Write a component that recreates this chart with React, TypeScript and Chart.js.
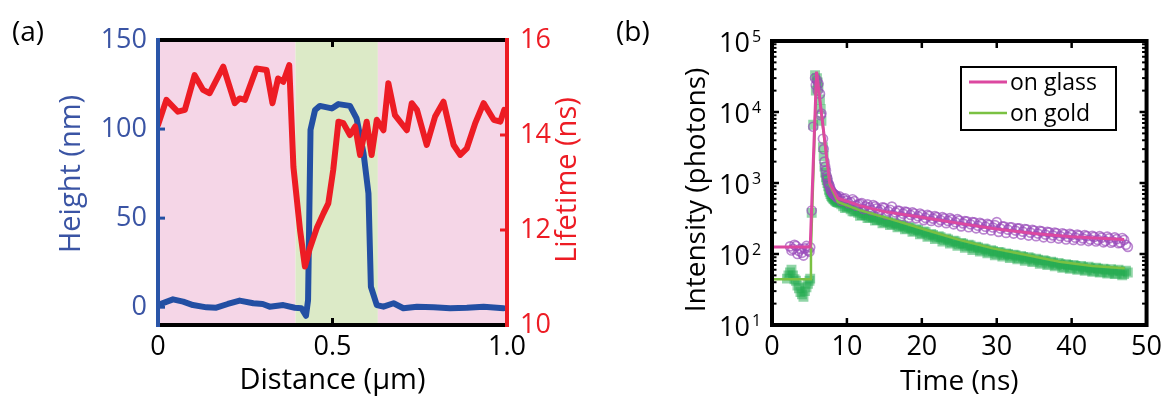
import React, { useEffect, useRef } from "react";
import { Chart, registerables } from "chart.js";
Chart.register(...registerables);

const FONT = "'Open Sans', 'DejaVu Sans', sans-serif";

// ---------- Panel (a) data ----------
const heightX = [0.0, 0.043, 0.072, 0.10, 0.139, 0.167, 0.20, 0.234, 0.273, 0.30, 0.32, 0.359, 0.392, 0.411, 0.424, 0.43, 0.437, 0.45, 0.464, 0.498, 0.517, 0.55, 0.569, 0.589, 0.603, 0.61, 0.627, 0.646, 0.675, 0.703, 0.742, 0.79, 0.837, 0.885, 0.933, 0.99];
const heightNm = [1.2, 4.4, 3.1, 1.2, -0.1, -0.3, 1.8, 3.7, 2.2, 1.8, 0.3, 1.2, -0.3, -0.6, -4.8, 4, 99.5, 110.7, 113, 111.6, 114, 113, 106, 86.4, 63.9, 11.5, 1.2, 0.3, 2.2, -0.6, 0.3, -0.1, -0.6, -0.3, 0.3, -0.6];
const lifetimeX = [0.0, 0.024, 0.057, 0.077, 0.105, 0.129, 0.148, 0.187, 0.22, 0.234, 0.249, 0.282, 0.311, 0.328, 0.344, 0.359, 0.376, 0.388, 0.407, 0.421, 0.435, 0.455, 0.474, 0.488, 0.502, 0.517, 0.531, 0.55, 0.565, 0.579, 0.598, 0.612, 0.627, 0.646, 0.66, 0.679, 0.713, 0.727, 0.742, 0.77, 0.794, 0.818, 0.847, 0.866, 0.885, 0.909, 0.933, 0.962, 0.981, 0.992];
const lifetimeNs = [14.21, 14.74, 14.49, 14.53, 15.26, 14.95, 14.88, 15.44, 14.67, 14.77, 14.74, 15.40, 15.37, 14.67, 15.19, 15.12, 15.47, 13.33, 12.0, 11.23, 11.61, 12.04, 12.35, 12.56, 13.26, 14.28, 14.25, 14.0, 14.18, 13.58, 14.28, 13.58, 14.32, 14.1, 15.09, 14.42, 14.1, 14.67, 14.53, 13.79, 14.39, 14.7, 13.79, 13.58, 13.72, 14.25, 14.67, 14.32, 14.28, 14.53];
const bandEdges = [0, 0.394, 0.63, 1.0];
const bandColors = ["#f5d6e7", "#dceac7", "#f5d6e7"];
const distanceTicks = [0, 0.5, 1.0];
const heightTicks = [0, 50, 100, 150];
const lifetimeTicks = [10, 12, 14, 16];

// ---------- Panel (b) data ----------
const glassT = [2.4, 2.8, 3.2, 3.6, 4.0, 4.4, 4.8, 5.1, 5.3, 5.5, 5.75, 6.0, 6.2, 6.4, 6.6, 6.8, 7.0, 7.2, 7.4, 7.6, 7.8, 8.0, 8.2, 8.4, 8.6, 8.8,
  9.0, 9.5, 10.0, 10.5, 11.0, 11.5, 12.0, 12.5, 13.0, 13.5, 14.0, 14.5, 15.0, 15.5, 16.0, 16.5, 17.0, 17.5, 18.0, 18.5, 19.0, 19.5, 20.0, 20.5,
  21.0, 21.5, 22.0, 22.5, 23.0, 23.5, 24.0, 24.5, 25.0, 25.5, 26.0, 26.5, 27.0, 27.5, 28.0, 28.5, 29.0, 29.5, 30.0, 30.5, 31.0, 31.5, 32.0, 32.5,
  33.0, 33.5, 34.0, 34.5, 35.0, 35.5, 36.0, 36.5, 37.0, 37.5, 38.0, 38.5, 39.0, 39.5, 40.0, 40.5, 41.0, 41.5, 42.0, 42.5, 43.0, 43.5, 44.0, 44.5,
  45.0, 45.5, 46.0, 46.5, 47.0, 47.5];
const glassI = [128, 118, 130, 110, 104, 120, 112, 124, 410, 6200, 30000, 28000, 25000, 18000, 9500, 4200, 2000, 1500, 1150, 950, 820, 740, 700, 680, 650, 630,
  650, 600, 565, 540, 555, 500, 520, 470, 455, 490, 440, 420, 445, 400, 465, 385, 405, 370, 390, 355, 372, 340, 355, 322,
  345, 315, 330, 300, 318, 292, 305, 280, 296, 270, 288, 262, 278, 250, 265, 242, 258, 236, 282, 228, 244, 220, 238, 214,
  230, 206, 222, 200, 214, 194, 208, 188, 202, 183, 196, 178, 190, 174, 186, 170, 182, 166, 178, 160, 174, 158, 170, 152,
  166, 150, 162, 145, 158, 126];
const glassT2 = [2.6, 3.0, 3.4, 3.8, 4.2, 4.6, 5.0, 5.85, 6.1, 6.5, 6.9, 7.1, 7.3, 7.5, 7.7, 7.9, 8.1, 8.3, 8.5, 8.7,
  9.25, 9.75, 10.25, 10.75, 11.25, 11.75, 12.25, 12.75, 13.25, 13.75, 14.25, 14.75, 15.25, 15.75, 16.25, 16.75, 17.25, 17.75, 18.25, 18.75,
  19.25, 19.75, 20.25, 20.75, 21.25, 21.75, 22.25, 22.75, 23.25, 23.75, 24.25, 24.75, 25.25, 25.75, 26.25, 26.75, 27.25, 27.75, 28.25, 28.75,
  29.25, 29.75, 30.25, 30.75, 31.25, 31.75, 32.25, 32.75, 33.25, 33.75, 34.25, 34.75, 35.25, 35.75, 36.25, 36.75, 37.25, 37.75, 38.25, 38.75,
  39.25, 39.75, 40.25, 40.75, 41.25, 41.75, 42.25, 42.75, 43.25, 43.75, 44.25, 44.75, 45.25, 45.75, 46.25, 46.75, 47.25];
const glassI2 = [112, 135, 100, 118, 95, 130, 108, 24000, 20000, 9000, 3000, 1700, 1250, 1000, 900, 780, 720, 690, 660, 620,
  560, 610, 520, 590, 480, 510, 430, 500, 415, 470, 395, 455, 360, 420, 350, 410, 340, 395, 325, 385,
  318, 372, 300, 355, 292, 342, 282, 330, 272, 320, 262, 310, 245, 290, 238, 282, 230, 275, 222, 265,
  215, 255, 205, 245, 198, 238, 194, 230, 188, 225, 182, 218, 178, 212, 172, 205, 168, 200, 165, 196,
  160, 192, 158, 188, 155, 185, 152, 180, 150, 178, 146, 176, 144, 172, 142, 168, 135];
const goldT = [2.0, 2.4, 2.8, 3.2, 3.6, 4.0, 4.4, 4.8, 5.1, 5.3, 5.5, 5.75, 6.0, 6.2, 6.4, 6.6, 6.8, 7.0, 7.2, 7.4, 7.6, 7.8, 8.0, 8.2, 8.4, 8.6, 8.8,
  9.0, 9.5, 10.0, 10.5, 11.0, 11.5, 12.0, 12.5, 13.0, 13.5, 14.0, 14.5, 15.0, 15.5, 16.0, 16.5, 17.0, 17.5, 18.0, 18.5, 19.0, 19.5, 20.0, 20.5,
  21.0, 21.5, 22.0, 22.5, 23.0, 23.5, 24.0, 24.5, 25.0, 25.5, 26.0, 26.5, 27.0, 27.5, 28.0, 28.5, 29.0, 29.5, 30.0, 30.5, 31.0, 31.5, 32.0, 32.5,
  33.0, 33.5, 34.0, 34.5, 35.0, 35.5, 36.0, 36.5, 37.0, 37.5, 38.0, 38.5, 39.0, 39.5, 40.0, 40.5, 41.0, 41.5, 42.0, 42.5, 43.0, 43.5, 44.0, 44.5,
  45.0, 45.5, 46.0, 46.5, 47.0, 47.5];
const goldI = [45, 55, 50, 42, 33, 27, 30, 38, 45, 380, 6600, 33000, 30000, 22000, 15000, 7500, 3200, 1700, 1200, 1000, 800, 700, 640, 600, 570, 550, 535,
  520, 470, 455, 425, 395, 380, 355, 350, 325, 330, 300, 305, 280, 285, 262, 268, 245, 250, 228, 232, 212, 218, 196, 202,
  182, 186, 170, 172, 158, 160, 146, 150, 137, 140, 128, 132, 120, 124, 113, 117, 107, 110, 101, 105, 97, 100, 92, 96,
  88, 91, 84, 87, 80, 83, 76, 80, 73, 76, 70, 72, 66, 70, 64, 68, 62, 65, 60, 63, 58, 62, 56, 60,
  55, 58, 53, 57, 52, 55];
const goldT2 = [2.2, 2.6, 3.0, 3.4, 3.8, 4.2, 4.6, 5.0, 5.85, 6.1, 6.5, 6.9, 7.1, 7.3, 7.5, 7.7, 7.9, 8.1, 8.3, 8.5, 8.7,
  9.25, 9.75, 10.25, 10.75, 11.25, 11.75, 12.25, 12.75, 13.25, 13.75, 14.25, 14.75, 15.25, 15.75, 16.25, 16.75, 17.25, 17.75, 18.25, 18.75,
  19.25, 19.75, 20.25, 20.75, 21.25, 21.75, 22.25, 22.75, 23.25, 23.75, 24.25, 24.75, 25.25, 25.75, 26.25, 26.75, 27.25, 27.75, 28.25, 28.75,
  29.25, 29.75, 30.25, 30.75, 31.25, 31.75, 32.25, 32.75, 33.25, 33.75, 34.25, 34.75, 35.25, 35.75, 36.25, 36.75, 37.25, 37.75, 38.25, 38.75,
  39.25, 39.75, 40.25, 40.75, 41.25, 41.75, 42.25, 42.75, 43.25, 43.75, 44.25, 44.75, 45.25, 45.75, 46.25, 46.75, 47.25];
const goldI2 = [50, 60, 44, 36, 29, 25, 34, 42, 20000, 26000, 11000, 2400, 1400, 1100, 900, 750, 660, 620, 590, 560, 540,
  500, 445, 470, 400, 410, 345, 370, 320, 340, 295, 315, 270, 292, 255, 275, 238, 258, 222, 240, 205,
  224, 190, 208, 175, 192, 162, 178, 150, 166, 140, 154, 130, 143, 122, 135, 114, 127, 108, 120, 102,
  113, 96, 107, 92, 102, 88, 98, 84, 94, 80, 90, 77, 86, 73, 82, 70, 78, 67, 75, 64,
  72, 62, 70, 60, 68, 58, 66, 56, 64, 55, 62, 53, 61, 52, 60, 50, 58];
const glassFitT = [0, 5.1, 5.95, 7.7, 8.8, 11.7, 15, 20, 25, 30, 35, 40, 47];
const glassFitI = [125, 125, 37000, 1000, 610, 480, 395, 330, 270, 225, 195, 175, 160];
const goldFitT = [0, 5.15, 5.2, 5.95, 7.7, 8.8, 11.7, 16.2, 20.6, 25, 29.5, 34, 38.4, 42.8, 47.1];
const goldFitI = [44, 44, 115, 36000, 950, 540, 415, 302, 218, 158, 120, 97, 78, 68, 63];
const timeTicks = [0, 10, 20, 30, 40, 50];
const intensityDecades = [10, 100, 1000, 10000, 100000];
const legendLabels = ["on glass", "on gold"];

const BLUE_LINE = "#234fa3";
const BLUE_TEXT = "#3a54a4";
const RED = "#ed1c24";
const PINK = "#dc48a0";
const GREEN_LINE = "#7ac142";

const pts = (xs: number[], ys: number[]) => xs.map((x, i) => ({ x, y: ys[i] }));

function line(ctx: CanvasRenderingContext2D, x1: number, y1: number, x2: number, y2: number) {
  ctx.beginPath();
  ctx.moveTo(x1, y1);
  ctx.lineTo(x2, y2);
  ctx.stroke();
}

function rotatedText(ctx: CanvasRenderingContext2D, text: string, x: number, y: number, color: string, size: number) {
  ctx.save();
  ctx.translate(x, y);
  ctx.rotate(-Math.PI / 2);
  ctx.font = `${size}px ${FONT}`;
  ctx.fillStyle = color;
  ctx.textAlign = "center";
  ctx.textBaseline = "middle";
  ctx.fillText(text, 0, 0);
  ctx.restore();
}

const panelAPlugin = {
  id: "panelA",
  beforeDatasetsDraw(chart: any) {
    const { ctx, chartArea: ca, scales } = chart;
    const x = scales.x;
    ctx.save();
    for (let i = 0; i < bandColors.length; i++) {
      const x1 = x.getPixelForValue(bandEdges[i]);
      const x2 = x.getPixelForValue(bandEdges[i + 1]);
      ctx.fillStyle = bandColors[i];
      ctx.fillRect(x1, ca.top, x2 - x1, ca.bottom - ca.top);
    }
    ctx.restore();
  },
  afterDraw(chart: any) {
    const { ctx, chartArea: ca, scales } = chart;
    const { x, y, y1 } = scales;
    ctx.save();
    ctx.lineCap = "butt";
    ctx.lineWidth = 3;
    ctx.strokeStyle = "#000";
    for (const v of distanceTicks) {
      const px = x.getPixelForValue(v);
      line(ctx, px, ca.bottom, px, ca.bottom - 7);
      line(ctx, px, ca.top, px, ca.top + 7);
    }
    ctx.strokeStyle = BLUE_LINE;
    for (const v of heightTicks) {
      const py = y.getPixelForValue(v);
      line(ctx, ca.left, py, ca.left + 7, py);
    }
    ctx.strokeStyle = RED;
    for (const v of lifetimeTicks) {
      const py = y1.getPixelForValue(v);
      line(ctx, ca.right, py, ca.right - 7, py);
    }
    ctx.lineWidth = 4;
    ctx.strokeStyle = "#000";
    line(ctx, ca.left, ca.top, ca.right, ca.top);
    line(ctx, ca.left, ca.bottom, ca.right, ca.bottom);
    ctx.strokeStyle = "#2a55a8";
    line(ctx, ca.left, ca.top - 2, ca.left, ca.bottom + 2);
    ctx.strokeStyle = RED;
    line(ctx, ca.right, ca.top - 2, ca.right, ca.bottom + 2);
    rotatedText(ctx, "Height (nm)", 72, 174, BLUE_TEXT, 29);
    rotatedText(ctx, "Lifetime (ns)", 568, 180, RED, 29);
    ctx.font = `29px ${FONT}`;
    ctx.fillStyle = "#000";
    ctx.textAlign = "center";
    ctx.textBaseline = "middle";
    ctx.fillText("Distance (µm)", (ca.left + ca.right) / 2, 381);
    ctx.textAlign = "left";
    ctx.font = `28px ${FONT}`;
    ctx.fillText("(a)", 12, 33);
    ctx.restore();
  },
};

const panelBPlugin = {
  id: "panelB",
  afterDraw(chart: any) {
    const { ctx, chartArea: ca, scales } = chart;
    const { x, y } = scales;
    ctx.save();
    ctx.strokeStyle = "#000";
    ctx.lineWidth = 2.5;
    for (const v of timeTicks) {
      if (v === timeTicks[0] || v === timeTicks[timeTicks.length - 1]) continue;
      const px = x.getPixelForValue(v);
      line(ctx, px, ca.bottom, px, ca.bottom - 7);
      line(ctx, px, ca.top, px, ca.top + 7);
    }
    for (let d = 0; d < intensityDecades.length; d++) {
      const dec = intensityDecades[d];
      for (let m = 1; m <= 9; m++) {
        const v = dec * m;
        if (v > intensityDecades[intensityDecades.length - 1]) break;
        const py = y.getPixelForValue(v);
        const len = m === 1 ? 7 : 4.5;
        ctx.lineWidth = m === 1 ? 2.5 : 2;
        line(ctx, ca.left, py, ca.left + len, py);
        line(ctx, ca.right, py, ca.right - len, py);
      }
    }
    ctx.lineWidth = 4;
    ctx.strokeRect(ca.left, ca.top, ca.right - ca.left, ca.bottom - ca.top);
    ctx.fillStyle = "#000";
    for (const v of intensityDecades) {
      const py = y.getPixelForValue(v);
      const exp = Math.round(Math.log10(v));
      ctx.font = `27px ${FONT}`;
      ctx.textAlign = "right";
      ctx.textBaseline = "alphabetic";
      ctx.fillText("10", ca.left - 22, py + 11);
      ctx.font = `16px ${FONT}`;
      ctx.textAlign = "left";
      ctx.fillText(String(exp), ca.left - 20, py + 1);
    }
    rotatedText(ctx, "Intensity (photons)", 113, 190, "#000", 28);
    ctx.font = `28px ${FONT}`;
    ctx.textAlign = "center";
    ctx.textBaseline = "middle";
    ctx.fillText("Time (ns)", (ca.left + ca.right) / 2, 382);
    ctx.textAlign = "left";
    ctx.fillText("(b)", 32, 33);
    const lx = 377, ly = 67, lw = 155, lh = 63;
    ctx.fillStyle = "#fff";
    ctx.fillRect(lx, ly, lw, lh);
    ctx.lineWidth = 2;
    ctx.strokeStyle = "#000";
    ctx.strokeRect(lx, ly, lw, lh);
    const cols = [PINK, GREEN_LINE];
    const rows = [82, 113];
    for (let i = 0; i < legendLabels.length; i++) {
      ctx.strokeStyle = cols[i];
      ctx.lineWidth = i === 0 ? 3 : 2.5;
      line(ctx, lx + 8, rows[i], lx + 46, rows[i]);
      ctx.fillStyle = "#000";
      ctx.font = `23px ${FONT}`;
      ctx.textAlign = "left";
      ctx.textBaseline = "alphabetic";
      ctx.fillText(legendLabels[i], lx + 49, rows[i] + 7.5);
    }
    ctx.restore();
  },
};

function PanelA() {
  const ref = useRef<HTMLCanvasElement>(null);
  useEffect(() => {
    const chart = new Chart(ref.current as HTMLCanvasElement, {
      type: "scatter",
      data: {
        datasets: [
          {
            data: pts(lifetimeX, lifetimeNs),
            yAxisID: "y1",
            showLine: true,
            borderColor: RED,
            borderWidth: 6,
            pointRadius: 0,
            borderJoinStyle: "round",
            borderCapStyle: "round",
          } as any,
          {
            data: pts(heightX, heightNm),
            yAxisID: "y",
            showLine: true,
            borderColor: BLUE_LINE,
            borderWidth: 6,
            pointRadius: 0,
            borderJoinStyle: "round",
            borderCapStyle: "round",
          } as any,
        ],
      },
      options: {
        responsive: false,
        animation: false,
        layout: { padding: { top: 40, left: 0, right: 0, bottom: 0 } },
        plugins: { legend: { display: false }, tooltip: { enabled: false } },
        scales: {
          x: {
            type: "linear",
            min: 0,
            max: 1,
            afterBuildTicks: (s: any) => { s.ticks = distanceTicks.map((v) => ({ value: v })); },
            afterFit: (s: any) => { s.height = 71; },
            ticks: {
              color: "#000",
              font: { family: FONT, size: 27 },
              padding: 6,
              maxRotation: 0,
              callback: (v: any) => (Number(v) === 0 ? "0" : Number(v).toFixed(1)),
            },
            grid: { display: false, drawTicks: false },
            border: { display: false },
          },
          y: {
            type: "linear",
            position: "left",
            min: -10,
            max: 150,
            afterBuildTicks: (s: any) => { s.ticks = heightTicks.map((v) => ({ value: v })); },
            afterFit: (s: any) => { s.width = 158; },
            ticks: { color: BLUE_TEXT, font: { family: FONT, size: 27 }, padding: 11 },
            grid: { display: false, drawTicks: false },
            border: { display: false },
          },
          y1: {
            type: "linear",
            position: "right",
            min: 10,
            max: 16,
            afterBuildTicks: (s: any) => { s.ticks = lifetimeTicks.map((v) => ({ value: v })); },
            afterFit: (s: any) => { s.width = 77; },
            ticks: { color: RED, font: { family: FONT, size: 27 }, padding: 13 },
            grid: { display: false, drawTicks: false },
            border: { display: false },
          },
        },
      } as any,
      plugins: [panelAPlugin],
    });
    return () => chart.destroy();
  }, []);
  return (
    <canvas
      ref={ref}
      width={584}
      height={396}
      style={{ position: "absolute", left: 0, top: 0, width: 584, height: 396 }}
    />
  );
}

function PanelB() {
  const ref = useRef<HTMLCanvasElement>(null);
  useEffect(() => {
    const chart = new Chart(ref.current as HTMLCanvasElement, {
      type: "scatter",
      data: {
        datasets: [
          {
            data: pts(glassFitT, glassFitI),
            showLine: true,
            borderColor: PINK,
            borderWidth: 3,
            pointRadius: 0,
          } as any,
          {
            data: pts(goldFitT, goldFitI),
            showLine: true,
            borderColor: GREEN_LINE,
            borderWidth: 2.5,
            pointRadius: 0,
          } as any,
          {
            data: pts(glassT, glassI).concat(pts(glassT2, glassI2)),
            showLine: false,
            pointStyle: "circle",
            pointRadius: 4.5,
            pointBorderWidth: 1.7,
            pointBorderColor: "rgba(150,70,185,0.65)",
            pointBackgroundColor: "rgba(0,0,0,0)",
          } as any,
          {
            data: pts(goldT, goldI).concat(pts(goldT2, goldI2)),
            showLine: false,
            pointStyle: "rect",
            pointRadius: 7,
            pointBorderWidth: 0,
            pointBorderColor: "rgba(35,172,80,0)",
            pointBackgroundColor: "rgba(35,172,80,0.5)",
          } as any,
        ],
      },
      options: {
        responsive: false,
        animation: false,
        layout: { padding: { top: 41, left: 0, right: 21, bottom: 0 } },
        plugins: { legend: { display: false }, tooltip: { enabled: false } },
        scales: {
          x: {
            type: "linear",
            min: 0,
            max: 50,
            afterBuildTicks: (s: any) => { s.ticks = timeTicks.map((v) => ({ value: v })); },
            afterFit: (s: any) => { s.height = 71; },
            ticks: { color: "#000", font: { family: FONT, size: 27 }, padding: 6, maxRotation: 0 },
            grid: { display: false, drawTicks: false },
            border: { display: false },
          },
          y: {
            type: "logarithmic",
            min: 10,
            max: 100000,
            afterBuildTicks: (s: any) => { s.ticks = intensityDecades.map((v) => ({ value: v })); },
            afterFit: (s: any) => { s.width = 188; },
            ticks: { display: false },
            grid: { display: false, drawTicks: false },
            border: { display: false },
          },
        },
      } as any,
      plugins: [panelBPlugin],
    });
    return () => chart.destroy();
  }, []);
  return (
    <canvas
      ref={ref}
      width={584}
      height={396}
      style={{ position: "absolute", left: 584, top: 0, width: 584, height: 396 }}
    />
  );
}

export default function App() {
  return (
    <div style={{ position: "absolute", left: 0, top: 0, width: 1168, height: 396, background: "#fff", overflow: "hidden" }}>
      <PanelA />
      <PanelB />
    </div>
  );
}
